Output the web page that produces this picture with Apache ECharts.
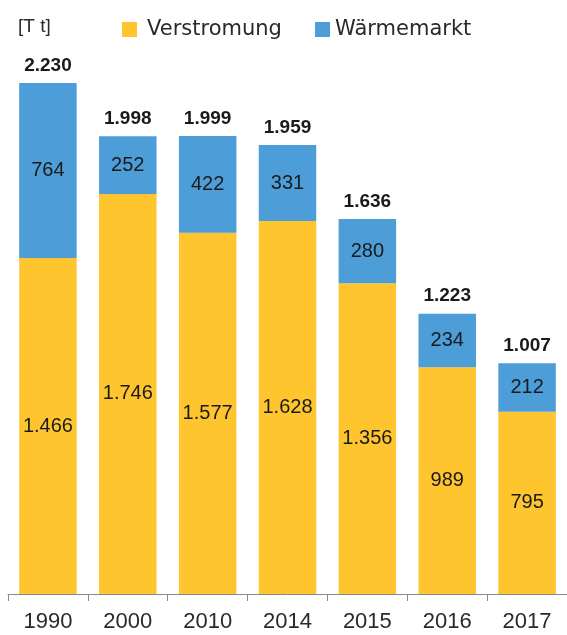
<!DOCTYPE html>
<html>
<head>
<meta charset="utf-8">
<script src="https://cdn.jsdelivr.net/npm/echarts@6/dist/echarts.min.js"></script>
<style>
  html, body { margin: 0; padding: 0; background: #fff; }
  #chart { width: 567px; height: 635px; }
</style>
</head>
<body>
<div id="chart"></div>
<script>
  // Werte in Tausend Tonnen
  const jahre = ['1990', '2000', '2010', '2014', '2015', '2016', '2017'];
  const verstromung = [1466, 1746, 1577, 1628, 1356, 989, 795];
  const waermemarkt = [764, 252, 422, 331, 280, 234, 212];
  const gesamt = [2230, 1998, 1999, 1959, 1636, 1223, 1007];

  const gelb = '#FEC52E';
  const blau = '#4C9DD8';
  const font = 'Liberation Sans, Arial, sans-serif';

  // Tausenderpunkt
  function fmt(v) {
    return String(v).replace(/\B(?=(\d{3})+(?!\d))/g, '.');
  }

  const chart = echarts.init(document.getElementById('chart'));

  const legendText = { fontSize: 21, color: '#2a2a2a', fontFamily: 'DejaVu Sans, sans-serif' };

  const option = {
    animation: false,
    textStyle: { fontFamily: font },
    legend: [
      {
        data: ['Verstromung'],
        left: 117,
        top: 14,
        itemWidth: 15,
        itemHeight: 15,
        icon: 'rect',
        textStyle: Object.assign({ padding: [0, 0, 0, 5] }, legendText)
      },
      {
        data: ['Wärmemarkt'],
        left: 310,
        top: 14,
        itemWidth: 15,
        itemHeight: 15,
        icon: 'rect',
        textStyle: Object.assign({ padding: [0, 0, 0, 0] }, legendText)
      }
    ],
    graphic: [{
      type: 'text',
      left: 18,
      top: 17,
      style: { text: '[T t]', fontSize: 19, fill: '#2a2a2a', fontFamily: font }
    }],
    grid: { left: 8, right: -2, top: 83, bottom: 41 },
    xAxis: {
      type: 'category',
      data: jahre,
      axisLine: { lineStyle: { color: '#8a8a8a', width: 1 } },
      axisTick: { show: true, length: 7, lineStyle: { color: '#8a8a8a' } },
      axisLabel: { fontSize: 22, color: '#2a2a2a', margin: 17 }
    },
    yAxis: {
      type: 'value',
      min: 0,
      max: 2230,
      show: false,
      splitLine: { show: false }
    },
    series: [
      {
        name: 'Verstromung',
        type: 'bar',
        stack: 'summe',
        barWidth: '72%',
        data: verstromung,
        itemStyle: { color: gelb },
        label: {
          show: true,
          position: 'inside',
          fontSize: 20,
          color: '#1a1a1a',
          formatter: p => fmt(p.value)
        }
      },
      {
        name: 'Wärmemarkt',
        type: 'bar',
        stack: 'summe',
        data: waermemarkt,
        itemStyle: { color: blau },
        label: {
          show: true,
          position: 'inside',
          fontSize: 20,
          color: '#1a1a1a',
          formatter: p => fmt(p.value)
        }
      },
      {
        name: 'Gesamt',
        type: 'bar',
        stack: 'summe',
        data: gesamt.map(() => 0),
        itemStyle: { color: 'transparent' },
        label: {
          show: true,
          position: 'top',
          distance: 8,
          fontSize: 19,
          fontWeight: 'bold',
          color: '#1a1a1a',
          formatter: p => fmt(gesamt[p.dataIndex])
        }
      }
    ]
  };

  chart.setOption(option);
</script>
</body>
</html>
